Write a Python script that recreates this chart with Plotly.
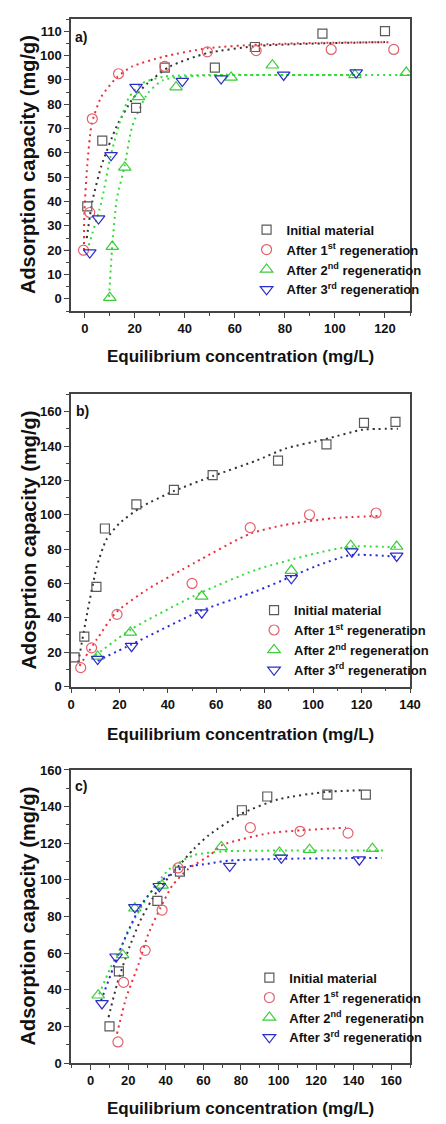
import plotly.graph_objects as go

# ---------------- Panel a ----------------
a_init_x = [1, 7, 20.5, 32, 52, 68, 95, 120]
a_init_y = [38, 65, 78.5, 95, 95, 103.5, 109, 110]
a_r1_x = [-0.5, 2, 3, 13.5, 32, 49, 68.5, 98.5, 123.5]
a_r1_y = [20, 35.5, 74, 92.5, 95.5, 101.5, 102, 102.5, 102.5]
a_r2_x = [10, 11, 16, 21.5, 36.5, 58.5, 75, 108, 128.5]
a_r2_y = [0.5, 21.5, 54, 83, 87, 91, 96, 92, 93]
a_r3_x = [2, 5.5, 10.5, 20.5, 39, 54.5, 79.5, 108.5]
a_r3_y = [19, 33, 59, 87, 89.5, 90.5, 92, 93]
# fitted curves
a_f_init_x = [0.8, 3, 6.6, 12.8, 19, 25, 34, 49, 70, 95, 120]
a_f_init_y = [25, 40, 54.5, 71, 82, 88.5, 95.5, 101, 104, 105, 105.5]
a_f_r1_x = [-0.3, -0.2, 1, 2.8, 6.6, 12.8, 19, 31.5, 49, 70, 95, 123]
a_f_r1_y = [20, 34, 55, 72, 83, 91, 95.5, 99.5, 103, 104.5, 105.2, 105.5]
a_f_r2_x = [9.7, 10.9, 12.8, 15.9, 19, 25.2, 31.5, 44, 70, 100, 130]
a_f_r2_y = [0.8, 20.5, 41, 54.5, 71, 84.5, 90, 91.6, 92, 92, 92]
a_f_r3_x = [1.6, 6.6, 10.3, 14, 17.8, 22.8, 31.5, 50, 80, 110]
a_f_r3_y = [22, 39.5, 58.5, 72.5, 83, 88.5, 91.3, 92, 92, 92]

# ---------------- Panel b ----------------
b_init_x = [1.5, 5.5, 10.5, 14, 27, 42.5, 58.5, 85.5, 105.5, 121, 134]
b_init_y = [17, 29, 58, 92, 106, 114.5, 123, 131.5, 141, 153.5, 154]
b_r1_x = [4, 8.5, 19, 50, 74, 98.5, 126]
b_r1_y = [11, 22.5, 42, 60, 92.5, 100, 101]
b_r2_x = [11, 24.5, 54, 91, 115.5, 134.5]
b_r2_y = [17.5, 31.5, 52.5, 67.5, 82, 81.5]
b_r3_x = [11, 25, 54, 91, 116, 134.5]
b_r3_y = [16, 23.5, 43, 63, 78.5, 76]
b_f_init_x = [3, 7, 10.7, 14.6, 20, 29, 42, 58.5, 76.5, 88.5, 105, 120.5, 135]
b_f_init_y = [14, 45, 70, 85.5, 95, 104.5, 113.5, 122.5, 131.5, 138.5, 144, 149.5, 150]
b_f_r1_x = [3.5, 10.7, 18.5, 31.5, 51, 74, 88, 108, 128]
b_f_r1_y = [12, 27.5, 43, 56.5, 72, 89, 94, 98, 99.3]
b_f_r2_x = [10, 25, 53.5, 76.5, 101, 115.5, 135]
b_f_r2_y = [18, 33.5, 54.5, 68, 77.5, 81.5, 81]
b_f_r3_x = [11, 25, 53.5, 76.5, 91, 101, 115.5, 135]
b_f_r3_y = [15, 24.5, 44, 55.5, 64, 70, 76.5, 75.5]

# ---------------- Panel c ----------------
c_init_x = [10, 15, 35.5, 47.5, 80.5, 94, 126, 146.5]
c_init_y = [20, 50, 88.5, 104.5, 138, 145.5, 146.5, 146.5]
c_r1_x = [14.5, 17.5, 29, 38, 46.5, 85, 111.5, 137]
c_r1_y = [11.5, 44, 61.5, 83.5, 106.5, 128.5, 126.5, 125.5]
c_r2_x = [4, 17, 23.5, 38, 69.5, 100.5, 116.5, 150]
c_r2_y = [37, 59, 84.5, 97, 118, 115, 116.5, 117]
c_r3_x = [6, 13.5, 23.5, 36.5, 74, 101.5, 143]
c_r3_y = [32.5, 58, 85, 96.5, 107.5, 112, 111]
c_f_init_x = [9.5, 14, 20.5, 27, 35.5, 45.5, 55, 63, 80, 100, 125, 145]
c_f_init_y = [25, 43, 63, 79, 94, 106, 117, 124.5, 136, 144, 148, 149]
c_f_r1_x = [14, 19, 25.5, 30.5, 37, 43.5, 52, 63.5, 70, 95, 111.5, 136]
c_f_r1_y = [16, 36, 54, 70, 84.5, 97, 106, 113.5, 119, 125.5, 127, 128.5]
c_f_r2_x = [4.5, 10.5, 17, 23.5, 32, 42, 55, 70, 100, 156]
c_f_r2_y = [37.5, 52, 65, 79, 93.5, 106, 113.5, 115.5, 116, 116]
c_f_r3_x = [5.5, 12, 19, 27, 37, 48.5, 63.5, 73.5, 103.5, 155]
c_f_r3_y = [34, 52, 70, 86.5, 99, 106.5, 109, 110.5, 111.5, 112]

series_names = ["Initial material", "After 1<sup>st</sup> regeneration",
                "After 2<sup>nd</sup> regeneration", "After 3<sup>rd</sup> regeneration"]
panel_labels = ["a)", "b)", "c)"]
y_titles = ["Adsorption capacity (mg/g)", "Adosprtion capacity (mg/g)", "Adsorption capacity (mg/g)"]
x_title = "Equilibrium concentration (mg/L)"

marker_colors = ["#5a5a5a", "#e2606c", "#3ccc3c", "#2c2cc8"]
line_colors = ["#333333", "#e8303c", "#33dd33", "#2a2ad8"]
symbols = ["square-open", "circle-open", "triangle-up-open", "triangle-down-open"]
sizes = [9, 10, 11, 11]

FONT = "Arial, Liberation Sans, sans-serif"

# pixel geometry
L, R, T, B = 71, 12, 12, 61
W, H = 446, 1124
PW = W - L - R
PH = H - T - B

def py(p):  # pixel y -> paper y
    return (H - B - p) / PH

def px(p):  # pixel x -> paper x
    return (p - L) / PW

domains = [[py(306), py(12)], [py(684), py(390)], [py(1063), py(768)]]

fig = go.Figure()

panels = [
    ([a_init_x, a_r1_x, a_r2_x, a_r3_x], [a_init_y, a_r1_y, a_r2_y, a_r3_y],
     [a_f_init_x, a_f_r1_x, a_f_r2_x, a_f_r3_x], [a_f_init_y, a_f_r1_y, a_f_r2_y, a_f_r3_y]),
    ([b_init_x, b_r1_x, b_r2_x, b_r3_x], [b_init_y, b_r1_y, b_r2_y, b_r3_y],
     [b_f_init_x, b_f_r1_x, b_f_r2_x, b_f_r3_x], [b_f_init_y, b_f_r1_y, b_f_r2_y, b_f_r3_y]),
    ([c_init_x, c_r1_x, c_r2_x, c_r3_x], [c_init_y, c_r1_y, c_r2_y, c_r3_y],
     [c_f_init_x, c_f_r1_x, c_f_r2_x, c_f_r3_x], [c_f_init_y, c_f_r1_y, c_f_r2_y, c_f_r3_y]),
]
# colour of fitted line per panel (in panel a the 3rd curve appears green)
fit_colors = [
    [line_colors[0], line_colors[1], line_colors[2], line_colors[2]],
    line_colors,
    line_colors,
]

for pi, (xs, ys, fxs, fys) in enumerate(panels):
    sfx = "" if pi == 0 else str(pi + 1)
    xa, ya = "x" + sfx, "y" + sfx
    leg = "legend" + sfx
    for si in range(4):
        fig.add_trace(go.Scatter(
            x=fxs[si], y=fys[si], mode="lines", xaxis=xa, yaxis=ya,
            line=dict(color=fit_colors[pi][si], width=2, dash="2px,4px", shape="spline", smoothing=0.6),
            showlegend=False, hoverinfo="skip"))
    for si in range(4):
        fig.add_trace(go.Scatter(
            x=xs[si], y=ys[si], mode="markers", xaxis=xa, yaxis=ya,
            name=series_names[si], legend=leg,
            marker=dict(symbol=symbols[si], size=sizes[si], color=marker_colors[si],
                        line=dict(width=1.2, color=marker_colors[si]))))

axis_common = dict(
    showline=True, linecolor="#444444", linewidth=1.5, mirror=True,
    ticks="outside", ticklen=5, tickwidth=1.2, tickcolor="#444444",
    showgrid=False, zeroline=False,
    tickfont=dict(family=FONT, size=13, color="#111111", weight="bold"),
)

x_ranges = [[-5.5, 130], [0, 140], [-10.5, 170]]
y_ranges = [[-5, 115], [0, 170], [0, 160]]
y_dticks = [10, 20, 20]

layout = dict(
    width=W, height=H, margin=dict(l=L, r=R, t=T, b=B),
    paper_bgcolor="white", plot_bgcolor="white",
    font=dict(family=FONT, color="#111111"),
    annotations=[],
)
for pi in range(3):
    sfx = "" if pi == 0 else str(pi + 1)
    layout["xaxis" + sfx] = dict(axis_common, domain=[0, 1], range=x_ranges[pi], anchor="y" + sfx,
                                  tick0=0, dtick=20,
                                  minor=dict(ticks="outside", ticklen=3, dtick=10, tick0=0,
                                             tickcolor="#444444", tickwidth=1))
    layout["yaxis" + sfx] = dict(axis_common, domain=domains[pi], range=y_ranges[pi], anchor="x" + sfx,
                                  tick0=0, dtick=y_dticks[pi],
                                  minor=dict(ticks="outside", ticklen=3, dtick=y_dticks[pi] / 2, tick0=0,
                                             tickcolor="#444444", tickwidth=1))

legend_pos = [(259, 209), (267, 592), (262, 962)]
for pi in range(3):
    key = "legend" if pi == 0 else "legend" + str(pi + 1)
    lx, ly = legend_pos[pi]
    layout[key] = dict(x=px(lx), y=py(ly), xanchor="left", yanchor="top",
                       bgcolor="rgba(0,0,0,0)", borderwidth=0,
                       font=dict(family=FONT, size=13, color="#111111", weight="bold"),
                       tracegroupgap=0)

fig.update_layout(**layout)

x_title_y = [352, 732, 1109]
label_pos = [(82, 30), (83, 407), (82, 784)]
for pi in range(3):
    fig.add_annotation(text=x_title, xref="paper", yref="paper", x=0.5, y=py(x_title_y[pi]),
                       xanchor="center", yanchor="middle", showarrow=False,
                       font=dict(family=FONT, size=17, color="#111111", weight="bold"))
    d = domains[pi]
    fig.add_annotation(text=y_titles[pi], xref="paper", yref="paper", x=px(25), y=(d[0] + d[1]) / 2,
                       xanchor="center", yanchor="middle", textangle=-90, showarrow=False,
                       font=dict(family=FONT, size=20, color="#111111", weight="bold"))
    lxp, lyp = label_pos[pi]
    fig.add_annotation(text=panel_labels[pi], xref="paper", yref="paper", x=px(lxp), y=py(lyp),
                       xanchor="center", yanchor="middle", showarrow=False,
                       font=dict(family=FONT, size=14, color="#111111", weight="bold"))

fig.write_html("out.html")
